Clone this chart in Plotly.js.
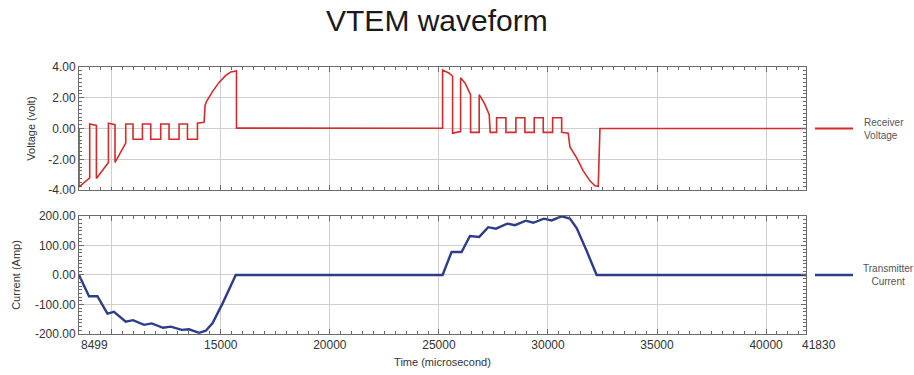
<!DOCTYPE html>
<html>
<head>
<meta charset="utf-8">
<script src="https://cdn.plot.ly/plotly-3.0.1.min.js"></script>
<style>html,body{margin:0;padding:0;background:#fff;}#chart{width:914px;height:375px;}</style>
</head>
<body>
<div id="chart"></div>
<script>
// ---- data ----
const voltTime = [8499, 8499, 8990, 8990, 9297, 9297, 9848, 9848, 10150, 10150, 10641, 10641,
  10976, 10976, 11407, 11407, 11788, 11788, 12246, 12246, 12627, 12627, 13086, 13086,
  13471, 13471, 13930, 13930, 14233, 14280, 14343, 14618, 14921, 15228, 15458, 15687, 15719, 15719,
  25168, 25168, 25471, 25627, 25627, 25994, 25994, 26200, 26452, 26452, 26847, 26847, 27100, 27306, 27350,
  27645, 27645, 28072, 28072, 28530, 28530, 28943, 28943, 29370, 29370, 29783, 29783, 30214, 30214,
  30627, 30627, 30929, 31007, 31314, 31617, 31924, 32154, 32305, 32383, 41830];
const voltValue = [0.0, -3.8, -3.2, 0.3, 0.2, -3.25, -2.2, 0.35, 0.25, -2.2, -0.95, 0.3,
  0.3, -0.7, -0.7, 0.3, 0.3, -0.7, -0.7, 0.3, 0.3, -0.7, -0.7, 0.3,
  0.3, -0.7, -0.7, 0.35, 0.4, 1.5, 1.75, 2.4, 3.0, 3.45, 3.68, 3.78, 3.75, 0.03,
  0.02, 3.8, 3.6, 3.4, -0.3, -0.2, 3.3, 2.95, 2.2, -0.25, -0.25, 2.2, 1.6, 0.9, -0.25,
  -0.25, 0.7, 0.7, -0.25, -0.25, 0.7, 0.7, -0.25, -0.25, 0.7, 0.7, -0.25, -0.25, 0.7,
  0.7, -0.25, -0.3, -1.2, -1.9, -2.75, -3.4, -3.72, -3.75, 0.0, 0.0];

const currTime = [8499, 8958, 9343, 9802, 10104, 10641, 10976, 11480, 11834, 12352, 12705,
  13210, 13545, 14003, 14311, 14618, 15077, 15380, 15687,
  25168, 25581, 26040, 26421, 26847, 27260, 27613, 28131, 28485, 28989, 29324, 29815,
  30168, 30627, 31007, 31314, 31772, 32231, 41830];
const currValue = [0, -72, -72, -131, -125, -158, -153, -169, -164, -179, -175,
  -186, -184, -196, -189, -164, -97, -47, 0,
  0, 78, 78, 132, 129, 162, 157, 174, 169, 184, 177, 191,
  185, 199, 191, 159, 82, 0, 0];

const xTickVals = [8499, 10000, 15000, 20000, 25000, 30000, 35000, 40000, 41830];
const xTickText = ['', '', '15000', '20000', '25000', '30000', '35000', '40000', ''];
const xEdgeLabels = [8499, 41830];
const vTickVals = [-4, -2, 0, 2, 4];
const vTickText = ['-4.00', '-2.00', '0.00', '2.00', '4.00'];
const cTickVals = [-200, -100, 0, 100, 200];
const cTickText = ['-200.00', '-100.00', '0.00', '100.00', '200.00'];

// ---- style ----
const FONT = 'Liberation Sans, Arial, sans-serif';
const frame = '#6a6a6a', grid = '#cfcfcf', tcol = '#333';
const topDom = [0.539, 1], botDom = [0, 0.442];
const xRange = [8499, 41830];

function xAx(anchor, labels) {
  return {
    anchor: anchor, range: xRange, tickmode: 'array', tickvals: xTickVals, ticktext: xTickText,
    showticklabels: labels, ticks: 'inside', ticklen: 5, tickcolor: frame,
    showline: true, linecolor: frame, linewidth: 1, mirror: 'allticks',
    showgrid: true, gridcolor: grid, gridwidth: 1, zeroline: false,
    tickfont: {family: FONT, size: 12, color: tcol},
    minor: {ticks: 'inside', ticklen: 3, tickcolor: frame, dtick: 500, tick0: 0, showgrid: false}
  };
}
function yAx(dom, rng, vals, text, title, standoff, mdt) {
  return {
    domain: dom, range: rng, tickmode: 'array', tickvals: vals, ticktext: text,
    ticks: 'inside', ticklen: 5, tickcolor: frame,
    showline: true, linecolor: frame, linewidth: 1, mirror: 'allticks',
    showgrid: true, gridcolor: grid, gridwidth: 1, zeroline: false,
    tickfont: {family: FONT, size: 12, color: tcol},
    title: {text: title, font: {family: FONT, size: 11, color: tcol}, standoff: standoff},
    minor: {ticks: 'inside', ticklen: 3, tickcolor: frame, dtick: mdt, tick0: 0, showgrid: false}
  };
}

const traces = [
  {x: voltTime, y: voltValue, xaxis: 'x2', yaxis: 'y2', mode: 'lines', name: 'Receiver Voltage',
   line: {color: '#d42b2b', width: 1.6}, showlegend: false},
  {x: currTime, y: currValue, xaxis: 'x', yaxis: 'y', mode: 'lines', name: 'Transmitter Current',
   line: {color: '#2f3c8a', width: 2.4}, showlegend: false}
];

const vZero = topDom[0] + (topDom[1] - topDom[0]) * 0.5;
const cZero = botDom[0] + (botDom[1] - botDom[0]) * 0.5;
const lgX0 = (815 - 79) / 727, lgX1 = (853 - 79) / 727, lgTx = (862 - 79) / 727;

const layout = {
  width: 914, height: 375,
  margin: {l: 79, r: 108, t: 67, b: 41},
  paper_bgcolor: '#fff', plot_bgcolor: '#fff',
  font: {family: FONT, color: tcol},
  title: {text: 'VTEM waveform', font: {family: FONT, size: 30, color: '#1a1a1a'},
          x: 0.478, xanchor: 'center', y: 0.945, yanchor: 'middle'},
  xaxis: Object.assign(xAx('y', true), {
    title: {text: 'Time (microsecond)', font: {family: FONT, size: 11, color: tcol}, standoff: 6}}),
  xaxis2: Object.assign(xAx('y2', false), {matches: 'x'}),
  yaxis: yAx(botDom, [-200, 200], cTickVals, cTickText, 'Current (Amp)', 12, 12.5),
  yaxis2: yAx(topDom, [-4, 4], vTickVals, vTickText, 'Voltage (volt)', 10, 0.25),
  shapes: [
    {type: 'line', xref: 'paper', yref: 'paper', x0: lgX0, x1: lgX1, y0: vZero, y1: vZero,
     line: {color: '#d42b2b', width: 2}},
    {type: 'line', xref: 'paper', yref: 'paper', x0: lgX0, x1: lgX1, y0: cZero, y1: cZero,
     line: {color: '#2f3c8a', width: 2.4}}
  ],
  annotations: [
    {xref: 'paper', yref: 'paper', x: lgTx, y: vZero, xanchor: 'left', yanchor: 'middle', align: 'left',
     text: 'Receiver<br>Voltage', showarrow: false, font: {family: FONT, size: 10, color: '#555'}},
    {xref: 'paper', yref: 'paper', x: lgTx - 0.002, y: cZero, xanchor: 'left', yanchor: 'middle', align: 'center',
     text: 'Transmitter<br>Current', showarrow: false, font: {family: FONT, size: 10, color: '#555'}},
    {xref: 'x', yref: 'paper', x: xEdgeLabels[0], y: 0, xanchor: 'left', yanchor: 'top', xshift: 0, yshift: -2,
     text: String(xEdgeLabels[0]), showarrow: false, font: {family: FONT, size: 12, color: tcol}},
    {xref: 'x', yref: 'paper', x: xEdgeLabels[1], y: 0, xanchor: 'left', yanchor: 'top', xshift: -6, yshift: -2,
     text: String(xEdgeLabels[1]), showarrow: false, font: {family: FONT, size: 12, color: tcol}}
  ]
};

Plotly.newPlot('chart', traces, layout, {staticPlot: true, displayModeBar: false});
</script>
</body>
</html>
